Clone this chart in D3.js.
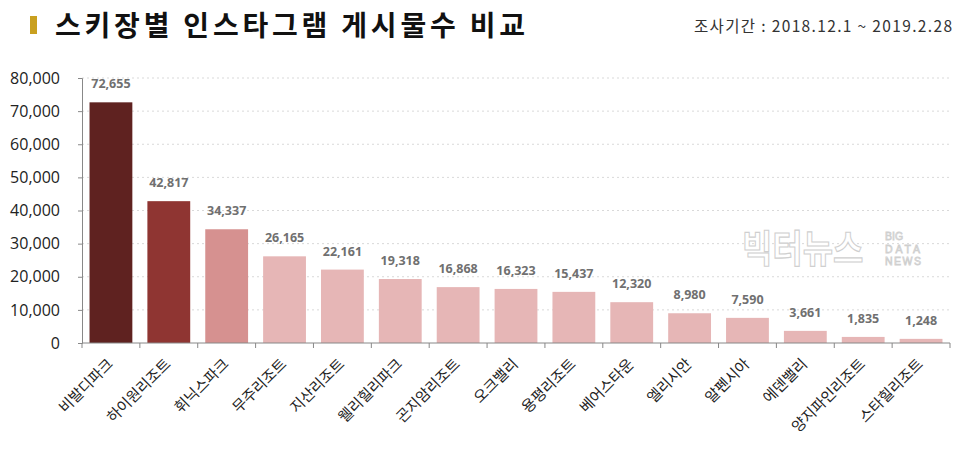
<!DOCTYPE html>
<html><head><meta charset="utf-8">
<script src="https://cdn.jsdelivr.net/npm/d3@7"></script>
<style>body{margin:0;background:#fff;} svg{display:block;font-family:"Noto Sans CJK KR","Noto Sans",sans-serif;}</style>
</head><body>
<svg id="c" width="960" height="449"></svg>
<script>
const categories = ["비발디파크","하이원리조트","휘닉스파크","무주리조트","지산리조트","웰리힐리파크","곤지암리조트","오크밸리","용평리조트","베어스타운","엘리시안","알펜시아","에덴밸리","양지파인리조트","스타힐리조트"];
const values = [72655,42817,34337,26165,22161,19318,16868,16323,15437,12320,8980,7590,3661,1835,1248];
const barColors = ["#5f2220","#8f3532","#d69190","#e6b6b6","#e6b6b6","#e6b6b6","#e6b6b6","#e6b6b6","#e6b6b6","#e6b6b6","#e6b6b6","#e6b6b6","#e6b6b6","#e6b6b6","#e6b6b6"];
const yTicks = [0,10000,20000,30000,40000,50000,60000,70000,80000];
const title = "스키장별 인스타그램 게시물수 비교";
const subtitle = "조사기간 : 2018.12.1 ~ 2019.2.28";

const svg = d3.select("#c");
const m = {left:82, right:10, top:78, bottom:106};
const W = 960, H = 449;
const x = d3.scaleBand().domain(categories).range([m.left, W - m.right]).paddingInner(0.26).paddingOuter(0.13);
const y = d3.scaleLinear().domain([0,80000]).range([H - m.bottom, m.top]);
const fmt = d3.format(",");

// grid
svg.append("g").selectAll("line").data(yTicks.filter(d=>d>0)).join("line")
  .attr("x1", m.left).attr("x2", W - m.right)
  .attr("y1", d=>y(d)).attr("y2", d=>y(d))
  .attr("stroke","#d9d9d9").attr("stroke-dasharray","2,3");

// watermark
const wm = svg.append("g").attr("fill","#fff").attr("stroke","#cfcfcf").attr("stroke-width",1);
wm.append("text").attr("transform","translate(742,262) scale(1,1.15)").attr("font-size",33).attr("font-weight","bold").text("빅터뉴스");
const wm2 = wm.append("g").attr("font-family","'Liberation Sans',sans-serif").attr("font-size",10.5).attr("stroke-width",0.8);
wm2.append("text").attr("x",885).attr("y",240).text("BIG");
wm2.append("text").attr("x",885).attr("y",252.5).attr("textLength",35).text("DATA");
wm2.append("text").attr("x",885).attr("y",265).attr("textLength",36).text("NEWS");

// bars
svg.append("g").selectAll("rect").data(values).join("rect")
  .attr("x",(d,i)=>x(categories[i])).attr("width",x.bandwidth())
  .attr("y",d=>y(d)).attr("height",d=>y(0)-y(d))
  .attr("fill",(d,i)=>barColors[i]);

// value labels
svg.append("g").selectAll("text").data(values).join("text")
  .attr("x",(d,i)=>x(categories[i])+x.bandwidth()/2).attr("y",d=>y(d)-14)
  .attr("text-anchor","middle").attr("font-size",12.5).attr("font-weight","bold").attr("fill","#707070")
  .attr("font-family","'Open Sans',sans-serif")
  .text(d=>fmt(d));

// y axis
const ya = svg.append("g").attr("transform",`translate(${m.left},0)`)
  .call(d3.axisLeft(y).tickValues(yTicks).tickFormat(fmt).tickSize(4).tickPadding(18));
ya.select(".domain").attr("stroke","#888");
ya.selectAll(".tick line").attr("stroke","#888");
ya.selectAll("text").attr("font-size",16).attr("fill","#222").attr("font-family","'Open Sans',sans-serif");

// x axis
const xa = svg.append("g").attr("transform",`translate(0,${y(0)})`);
xa.append("line").attr("x1",m.left).attr("x2",W-m.right).attr("stroke","#888");
const bounds = categories.map(c=>x(c)-x.step()*x.paddingInner()/2).concat([W-m.right]);
xa.selectAll("line.t").data(bounds).join("line").attr("class","t")
  .attr("x1",d=>d).attr("x2",d=>d).attr("y1",0).attr("y2",5).attr("stroke","#888");
xa.selectAll("text").data(categories).join("text")
  .attr("transform",d=>`translate(${x(d)+x.bandwidth()/2+3},${22}) rotate(-45)`)
  .attr("text-anchor","end").attr("font-size",15).attr("fill","#222").text(d=>d);

// title
svg.append("rect").attr("x",30).attr("y",16).attr("width",7).attr("height",18).attr("fill","#c9a020");
svg.append("text").attr("x",55).attr("y",36).attr("font-size",28).attr("font-weight","bold").attr("fill","#111")
  .attr("textLength",470).attr("lengthAdjust","spacing").text(title);
svg.append("text").attr("x",952).attr("y",32).attr("text-anchor","end").attr("font-size",15.5).attr("fill","#333")
  .attr("textLength",258).attr("lengthAdjust","spacing").text(subtitle);
</script>
</body></html>
